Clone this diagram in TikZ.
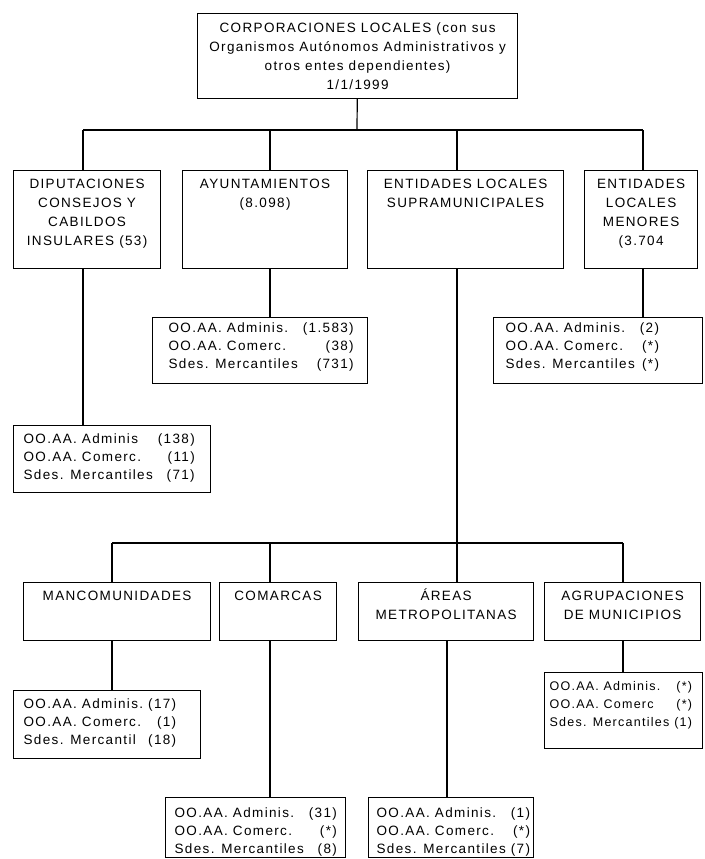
\documentclass[tikz,border=0pt]{standalone}
\usepackage{fontspec}
\setmainfont{Liberation Sans}[LetterSpace=10]
\usetikzlibrary{positioning}

% box contents: width, height, first baseline, text
\newcommand{\orgtext}[4]{\parbox[t][#2][t]{#1}{\centering\rule{0pt}{#3}#4}}
% count boxes: width, height, first baseline, left pad, rows
\newcommand{\orgtab}[5]{\parbox[t][#2][t]{#1}{\raggedright
  \hspace*{#4}\rule{0pt}{#3}\begin{tabular}[t]{@{}l@{\hspace{5pt}}r@{}}#5\end{tabular}}}

\begin{document}
\begin{tikzpicture}[x=1pt, y=-1pt,
    orgbox/.style={draw, line width=1.2pt, inner sep=0pt, anchor=north west},
    countbox/.style={orgbox, font=\fontsize{13.5}{18}\selectfont},
    link/.style={line width=1.2pt},
    font=\fontsize{13.5}{19}\selectfont]
    \useasboundingbox (0,0) rectangle (704,859);

    % top
    \node[orgbox] (top) at (197,13) {\orgtext{320pt}{85pt}{18.5pt}{CORPORACIONES LOCALES (con sus\\Organismos Autónomos Administrativos y\\otros entes dependientes)\\1/1/1999}};

    % first level
    \node[orgbox] (dip) at (13,170) {\orgtext{147pt}{98pt}{17.5pt}{DIPUTACIONES\\CONSEJOS Y\\CABILDOS\\INSULARES (53)}};
    \node[orgbox] (ayu) at (182,170) {\orgtext{165pt}{98pt}{17.5pt}{AYUNTAMIENTOS\\(8.098)}};
    \node[orgbox] (els) at (367,170) {\orgtext{196pt}{98pt}{17.5pt}{ENTIDADES LOCALES\\SUPRAMUNICIPALES}};
    \node[orgbox] (elm) at (584,170) {\orgtext{113pt}{98pt}{17.5pt}{ENTIDADES\\LOCALES\\MENORES\\(3.704}};

    % dependent bodies
    \node[countbox] (dip-sub) at (13,425) {\orgtab{197pt}{67pt}{17.5pt}{10pt}{OO.AA. Adminis & (138)\\ OO.AA. Comerc. & (11)\\ Sdes. Mercantiles & (71)}};
    \node[countbox] (ayu-sub) at (152,317) {\orgtab{215pt}{66pt}{14.5pt}{16pt}{OO.AA. Adminis. & (1.583)\\ OO.AA. Comerc. & (38)\\ Sdes. Mercantiles & (731)}};
    \node[countbox] (elm-sub) at (493,317) {\orgtab{209pt}{66pt}{14.5pt}{12pt}{OO.AA. Adminis. & (2)\\ OO.AA. Comerc. & (*)\\ Sdes. Mercantiles & (*)}};

    % second level
    \node[orgbox] (man) at (23,582) {\orgtext{187pt}{58pt}{17.5pt}{MANCOMUNIDADES}};
    \node[orgbox] (com) at (219,582) {\orgtext{117pt}{58pt}{17.5pt}{COMARCAS}};
    \node[orgbox] (are) at (358,582) {\orgtext{175pt}{58pt}{17.5pt}{ÁREAS\\METROPOLITANAS}};
    \node[orgbox] (agr) at (544,582) {\orgtext{156pt}{58pt}{17.5pt}{AGRUPACIONES\\DE MUNICIPIOS}};

    \node[countbox] (man-sub) at (13,690) {\orgtab{187pt}{68pt}{17.5pt}{10pt}{OO.AA. Adminis. & (17)\\ OO.AA. Comerc. & (1)\\ Sdes. Mercantil & (18)}};
    \node[countbox] (com-sub) at (165,797) {\orgtab{180pt}{60pt}{19.5pt}{9pt}{OO.AA. Adminis. & (31)\\ OO.AA. Comerc. & (*)\\ Sdes. Mercantiles & (8)}};
    \node[countbox] (are-sub) at (368,797) {\orgtab{165pt}{60pt}{19.5pt}{8pt}{OO.AA. Adminis. & (1)\\ OO.AA. Comerc. & (*)\\ Sdes. Mercantiles & (7)}};
    \node[countbox, font=\fontsize{12.5}{18}\selectfont] (agr-sub) at (544,672) {\orgtab{158pt}{76pt}{17.5pt}{5pt}{OO.AA. Adminis. & (*)\\ OO.AA. Comerc & (*)\\ Sdes. Mercantiles & (1)}};

    % drop lines
    \coordinate (bus1) at (357,130);
    \coordinate (bus2) at (457,543);
    \coordinate (x-dip) at (83,0);
    \coordinate (x-ayu) at (270,0);
    \coordinate (x-els) at (457,0);
    \coordinate (x-elm) at (643,0);
    \coordinate (x-man) at (112,0);
    \coordinate (x-com) at (270,0);
    \coordinate (x-are) at (447,0);
    \coordinate (x-agr) at (623,0);

    \draw[link] (top) -- (bus1);
    \draw[link] (bus1 -| x-dip) -- (bus1 -| x-elm);
    \foreach \n in {dip,ayu,els,elm}
        \draw[link] (bus1 -| x-\n) -- (\n.north -| x-\n);
    \foreach \n in {dip,ayu,elm}
        \draw[link] (\n.south -| x-\n) -- (\n-sub.north -| x-\n);

    \draw[link] (els.south -| x-els) -- (are.north -| x-els);
    \draw[link] (bus2 -| x-man) -- (bus2 -| x-agr);
    \foreach \n in {man,com,agr}
        \draw[link] (bus2 -| x-\n) -- (\n.north -| x-\n);
    \foreach \n in {man,com,are,agr}
        \draw[link] (\n.south -| x-\n) -- (\n-sub.north -| x-\n);
\end{tikzpicture}
\end{document}
